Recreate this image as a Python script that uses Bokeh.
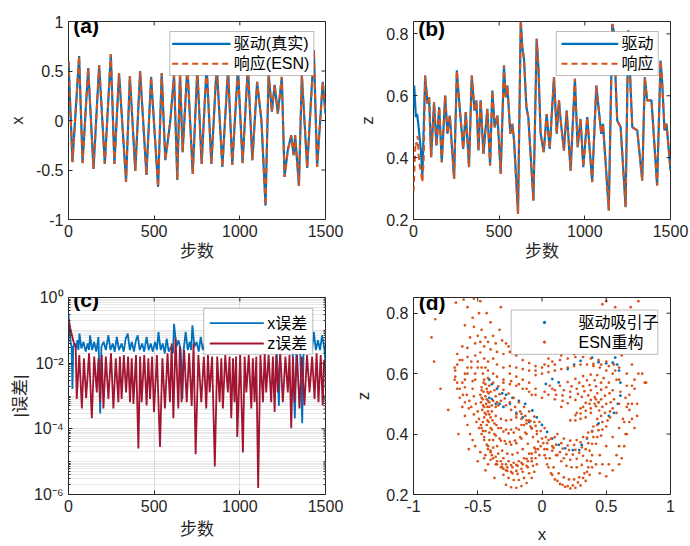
import numpy as np
from bokeh.plotting import figure
from bokeh.layouts import column, row
from bokeh.models import Range1d, FixedTicker, Label, BoxAnnotation
from bokeh.embed import file_html
from bokeh.resources import INLINE

# ---------------- data ----------------
# (a) x : drive vs ESN response (extrema of the trace)
a_steps = [0, 23, 62, 82, 115, 146, 179, 212, 247, 268, 295, 336, 358, 390, 418, 455, 482, 523, 544, 565,
           594, 616, 635, 651, 666, 694, 725, 752, 777, 806, 834, 865, 898, 931, 956, 989, 1016, 1047, 1073,
           1101, 1126, 1150, 1168, 1187, 1203, 1222, 1245, 1261, 1280, 1300, 1314, 1323, 1345, 1362, 1393,
           1432, 1451, 1484, 1500]
a_drive = [0.60, -0.42, 0.65, -0.43, 0.53, -0.49, 0.56, -0.44, 0.67, -0.44, 0.48, -0.62, 0.45, -0.51, 0.50,
           -0.55, 0.44, -0.67, 0.48, -0.40, -0.01, 0.46, -0.60, 0.48, -0.32, 0.55, -0.54, 0.52, -0.44, 0.55,
           -0.44, 0.56, -0.47, 0.52, -0.45, 0.53, -0.43, 0.55, -0.40, 0.39, 0.00, -0.86, 0.48, 0.09, 0.36,
           0.07, 0.44, -0.57, -0.30, -0.15, -0.35, -0.15, -0.66, 0.46, -0.48, 0.71, -0.47, 0.39, 0.07]
a_resp = list(a_drive)

# (b) z : drive
b_steps = [0, 4, 14, 21, 29, 43, 52, 68, 82, 91, 103, 120, 134, 150, 165, 185, 198, 212, 237, 253, 266, 290,
           305, 324, 340, 356, 367, 379, 392, 408, 431, 447, 460, 474, 490, 509, 528, 538, 548, 565, 577, 587,
           610, 626, 635, 645, 659, 670, 700, 719, 729, 742, 760, 777, 795, 820, 836, 849, 859, 878, 894, 917,
           942, 958, 975, 991, 1014, 1043, 1067, 1082, 1096, 1106, 1140, 1160, 1170, 1179, 1189, 1209, 1238,
           1253, 1277, 1306, 1335, 1350, 1364, 1389, 1422, 1442, 1451, 1465, 1477, 1500]
b_drive = [0.56, 0.633, 0.531, 0.541, 0.504, 0.423, 0.342, 0.665, 0.574, 0.595, 0.401, 0.579, 0.439, 0.563,
           0.385, 0.601, 0.477, 0.536, 0.331, 0.682, 0.585, 0.428, 0.547, 0.369, 0.665, 0.552, 0.585, 0.423,
           0.585, 0.412, 0.558, 0.375, 0.617, 0.498, 0.536, 0.348, 0.698, 0.595, 0.633, 0.477, 0.509, 0.455,
           0.218, 0.843, 0.757, 0.719, 0.563, 0.531, 0.261, 0.784, 0.692, 0.477, 0.418, 0.541, 0.428, 0.660,
           0.477, 0.585, 0.520, 0.423, 0.552, 0.358, 0.655, 0.434, 0.525, 0.369, 0.531, 0.321, 0.633, 0.552,
           0.477, 0.509, 0.229, 0.832, 0.805, 0.660, 0.520, 0.498, 0.240, 0.811, 0.498, 0.488, 0.326, 0.660,
           0.585, 0.585, 0.310, 0.714, 0.649, 0.488, 0.509, 0.358]
# (b) z : ESN response, differs only during the first ~60 steps
b_resp_head_steps = [0, 12, 18, 24, 30, 38, 44, 52, 60]
b_resp_head = [0.29, 0.45, 0.44, 0.47, 0.41, 0.37, 0.35, 0.32, 0.40]

# (c) |error| (log10 of the value)
c_x_steps = [0, 6, 12, 18, 23, 28, 36, 44, 52, 58, 64, 75, 88, 100, 112, 120, 126, 138, 150, 162, 175, 185,
             192, 205, 218, 233, 245, 258, 270, 282, 295, 310, 322, 334, 346, 358, 370, 382, 394, 404, 416,
             430, 442, 456, 468, 480, 492, 505, 516, 525, 538, 550, 562, 573, 585, 598, 610, 616, 630, 642,
             655, 665, 672, 684, 696, 708, 716, 723, 735, 748, 760, 772, 784, 796, 808, 820, 832, 844, 856,
             868, 880, 892, 904, 916, 928, 940, 952, 964, 976, 988, 1000, 1012, 1024, 1036, 1048, 1060, 1072,
             1084, 1096, 1108, 1120, 1132, 1144, 1156, 1168, 1180, 1192, 1204, 1215, 1228, 1236, 1248, 1260,
             1272, 1284, 1296, 1308, 1321, 1330, 1342, 1352, 1364, 1372, 1384, 1396, 1408, 1420, 1432, 1444,
             1456, 1468, 1480, 1492, 1500]
c_x_exp = [-0.5, -0.9, -1.35, -1.5, -2.79, -1.5, -1.4, -1.55, -1.3, -1.6, -1.1, -1.55, -1.35, -1.65, -1.4,
           -1.6, -1.15, -1.6, -1.35, -1.65, -1.2, -3.53, -1.5, -1.35, -1.6, -1.15, -1.6, -1.4, -1.65, -1.2,
           -1.6, -1.4, -1.65, -1.25, -1.1, -1.6, -1.35, -1.65, -1.3, -1.15, -1.6, -1.4, -1.65, -1.2, -1.6,
           -1.4, -1.65, -1.35, -1.6, -1.05, -1.6, -1.4, -1.7, -1.25, -1.65, -1.5, -1.7, -0.8, -1.5, -1.3,
           -1.6, -3.08, -1.6, -1.05, -1.6, -1.35, -1.6, -0.85, -1.5, -1.35, -1.65, -1.2, -1.6, -1.4, -1.65,
           -1.15, -1.6, -1.35, -1.65, -1.2, -1.6, -1.4, -1.65, -1.15, -1.6, -1.35, -1.65, -1.2, -1.6, -1.4,
           -1.65, -1.15, -1.6, -1.35, -1.65, -1.2, -1.6, -1.4, -1.65, -1.2, -1.6, -1.35, -1.6, -1.1, -1.6,
           -1.4, -1.65, -1.25, -1.6, -3.3, -1.6, -1.15, -1.6, -1.35, -1.65, -1.2, -1.6, -3.68, -1.6, -1.25,
           -1.6, -3.83, -1.6, -1.2, -1.6, -1.3, -1.65, -1.05, -1.6, -1.3, -1.6, -1.15, -1.5, -2.0]
c_z_steps = [0, 13, 29, 42, 48, 63, 78, 90, 103, 120, 136, 150, 165, 175, 184, 194, 204, 218, 233, 248, 262,
             276, 291, 300, 310, 323, 336, 348, 359, 369, 379, 394, 408, 418, 427, 442, 456, 466, 476, 488,
             499, 516, 534, 548, 563, 578, 592, 602, 612, 625, 641, 650, 660, 675, 690, 704, 719, 730, 742,
             758, 775, 790, 804, 814, 824, 838, 854, 868, 882, 892, 901, 915, 930, 940, 950, 960, 969, 978,
             985, 1002, 1018, 1028, 1038, 1052, 1067, 1076, 1086, 1096, 1107, 1120, 1135, 1145, 1154, 1168,
             1183, 1193, 1203, 1212, 1222, 1236, 1251, 1266, 1280, 1290, 1300, 1310, 1319, 1334, 1348, 1362,
             1377, 1392, 1407, 1422, 1436, 1448, 1459, 1472, 1484, 1492, 1500]
c_z_exp = [-0.65, -1.0, -1.34, -1.5, -3.09, -1.75, -3.38, -1.85, -3.07, -1.7, -3.68, -1.8, -2.89, -1.85,
           -3.19, -1.75, -3.38, -1.8, -3.09, -1.7, -3.38, -1.85, -3.19, -1.8, -3.09, -1.75, -2.89, -1.8,
           -3.19, -1.85, -3.24, -1.75, -4.6, -1.8, -3.19, -1.75, -3.29, -1.85, -3.09, -1.8, -3.49, -1.75,
           -4.55, -1.85, -3.38, -1.7, -3.19, -1.4, -3.68, -1.25, -3.38, -1.5, -3.19, -1.6, -3.19, -1.7,
           -3.3, -1.4, -4.77, -1.75, -3.19, -1.8, -3.38, -1.75, -2.89, -1.8, -5.15, -1.8, -3.19, -1.85,
           -3.38, -1.75, -2.89, -1.8, -3.68, -1.85, -3.19, -1.8, -4.25, -1.75, -4.72, -1.8, -2.89, -1.75,
           -3.38, -1.85, -3.19, -1.8, -5.8, -1.75, -3.19, -1.7, -2.89, -1.75, -3.19, -1.8, -3.49, -1.75,
           -2.89, -1.7, -3.19, -1.8, -2.89, -1.75, -3.98, -1.8, -3.19, -1.75, -3.38, -1.8, -3.29, -1.75,
           -2.89, -1.8, -3.09, -1.7, -3.19, -1.75, -3.29, -1.9, -2.0]

# (d) attractor points (x, z)
d_drive = [(-0.41, 0.58), (-0.39, 0.565), (-0.35, 0.55), (-0.31, 0.535), (-0.28, 0.53), (-0.23, 0.52),
           (-0.18, 0.51), (-0.13, 0.50), (-0.075, 0.478), (-0.04, 0.455), (0.0, 0.43), (0.04, 0.407),
           (0.08, 0.385), (0.13, 0.364), (0.18, 0.353), (0.24, 0.347), (0.29, 0.347), (0.31, 0.364),
           (0.35, 0.385), (0.39, 0.41), (0.44, 0.435), (0.52, 0.46), (0.56, 0.47), (0.59, 0.50),
           (0.61, 0.527), (0.61, 0.57), (0.60, 0.61), (0.585, 0.63), (0.57, 0.653), (0.55, 0.636),
           (0.50, 0.634), (0.44, 0.638), (0.39, 0.653), (0.30, 0.642), (0.25, 0.63), (0.20, 0.615),
           (0.13, 0.571), (0.08, 0.582), (0.03, 0.566), (-0.39, 0.516), (-0.36, 0.50), (-0.33, 0.50),
           (-0.41, 0.52), (-0.30, 0.49), (-0.25, 0.50), (-0.20, 0.47), (-0.15, 0.455), (-0.10, 0.44)]
d_esn = [
    # sparse outer points
    (-0.86, 0.72), (-0.84, 0.64), (-0.83, 0.78), (-0.79, 0.55), (-0.73, 0.48), (-0.65, 0.40), (-0.57, 0.35),
    (-0.50, 0.31), (-0.44, 0.28), (-0.37, 0.255), (-0.67, 0.835), (-0.61, 0.845), (-0.53, 0.848),
    (-0.48, 0.84), (-0.58, 0.82), (-0.49, 0.80), (-0.54, 0.785), (-0.43, 0.80), (-0.32, 0.82), (-0.40, 0.77),
    (-0.47, 0.745), (-0.53, 0.755), (-0.60, 0.76), (-0.56, 0.72), (-0.50, 0.725), (-0.42, 0.705),
    (-0.38, 0.725), (-0.33, 0.745), (-0.28, 0.70), (-0.62, 0.69), (-0.66, 0.665), (-0.68, 0.62),
    (-0.64, 0.645), (-0.58, 0.685), (-0.52, 0.70), (-0.45, 0.69), (-0.40, 0.68), (-0.35, 0.672),
    (-0.30, 0.665), (-0.25, 0.672), (-0.20, 0.66), (-0.15, 0.645), (-0.10, 0.635), (-0.05, 0.625),
    (0.47, 0.83), (0.50, 0.84), (0.57, 0.82), (0.69, 0.82), (0.75, 0.84), (0.78, 0.60), (0.80, 0.57),
    (0.72, 0.55), (0.74, 0.50), (0.70, 0.45), (0.72, 0.42), (0.66, 0.40), (0.64, 0.36), (0.62, 0.32),
    (0.55, 0.28), (0.68, 0.48), (0.65, 0.52), (0.66, 0.56), (0.62, 0.66), (0.55, 0.68), (0.45, 0.68),
    (0.35, 0.67), (0.25, 0.665), (0.15, 0.66), (0.05, 0.65), (0.0, 0.67),
    (-0.68, 0.58), (-0.66, 0.55), (-0.64, 0.52), (-0.62, 0.49), (-0.60, 0.46), (-0.58, 0.43), (-0.56, 0.40),
    (-0.54, 0.38), (-0.52, 0.36), (-0.48, 0.34), (-0.60, 0.60), (-0.62, 0.57), (-0.58, 0.62), (-0.55, 0.64),
    (-0.52, 0.66), (-0.48, 0.67),
    (-0.58, 0.655), (-0.62, 0.645), (-0.66, 0.63), (-0.675, 0.61), (-0.675, 0.59), (-0.66, 0.57),
    (-0.64, 0.55), (-0.615, 0.53), (-0.60, 0.505), (-0.57, 0.485),
    (-0.55, 0.62), (-0.58, 0.60), (-0.60, 0.58), (-0.60, 0.555), (-0.585, 0.53), (-0.565, 0.51),
    (-0.55, 0.49), (-0.53, 0.465), (-0.51, 0.44), (-0.49, 0.42), (-0.47, 0.40), (-0.45, 0.38),
    (-0.52, 0.60), (-0.54, 0.575), (-0.54, 0.55), (-0.53, 0.525), (-0.515, 0.50), (-0.50, 0.475),
    (-0.49, 0.45), (-0.475, 0.43), (-0.46, 0.41),
    (-0.42, 0.36), (-0.40, 0.34), (-0.38, 0.32), (-0.35, 0.30), (-0.30, 0.285), (-0.45, 0.32), (-0.42, 0.30),
    (-0.45, 0.65), (-0.50, 0.64), (-0.42, 0.64), (-0.38, 0.65), (-0.47, 0.62), (-0.44, 0.62), (-0.35, 0.63),
    (-0.50, 0.62), (-0.52, 0.58), (-0.36, 0.70), (-0.31, 0.71), (-0.26, 0.69), (-0.44, 0.72), (-0.48, 0.705),
    # left loops
    (-0.45, 0.58), (-0.47, 0.555), (-0.48, 0.53), (-0.475, 0.505), (-0.465, 0.48), (-0.45, 0.455),
    (-0.43, 0.43), (-0.41, 0.405), (-0.38, 0.38), (-0.35, 0.36), (-0.31, 0.345), (-0.27, 0.335),
    (-0.23, 0.332), (-0.19, 0.338), (-0.15, 0.35), (-0.11, 0.368), (-0.07, 0.39), (-0.04, 0.41),
    (-0.455, 0.57), (-0.47, 0.545), (-0.47, 0.52), (-0.46, 0.495), (-0.445, 0.47), (-0.425, 0.445),
    (-0.40, 0.42), (-0.37, 0.40), (-0.33, 0.385), (-0.29, 0.377), (-0.25, 0.374), (-0.21, 0.378),
    (-0.17, 0.39), (-0.13, 0.405), (-0.09, 0.425), (-0.06, 0.44),
    (-0.44, 0.565), (-0.455, 0.54), (-0.46, 0.515), (-0.45, 0.49), (-0.435, 0.465), (-0.415, 0.44),
    (-0.39, 0.415), (-0.36, 0.395), (-0.32, 0.378), (-0.28, 0.368), (-0.24, 0.365), (-0.20, 0.37),
    (-0.16, 0.385), (-0.12, 0.40), (-0.08, 0.418),
    (-0.43, 0.55), (-0.44, 0.525), (-0.435, 0.50), (-0.42, 0.475), (-0.40, 0.455), (-0.37, 0.435),
    (-0.34, 0.42), (-0.30, 0.408), (-0.26, 0.402), (-0.22, 0.405), (-0.18, 0.415), (-0.14, 0.43),
    (-0.10, 0.445),
    (-0.425, 0.54), (-0.43, 0.515), (-0.425, 0.49), (-0.41, 0.465), (-0.385, 0.445), (-0.355, 0.43),
    (-0.32, 0.42), (-0.28, 0.415), (-0.24, 0.415), (-0.20, 0.42), (-0.16, 0.43), (-0.12, 0.445),
    (-0.415, 0.535), (-0.42, 0.51), (-0.41, 0.49), (-0.39, 0.475), (-0.36, 0.46), (-0.32, 0.45),
    (-0.28, 0.445), (-0.24, 0.447), (-0.20, 0.455), (-0.16, 0.467),
    (-0.46, 0.44), (-0.44, 0.41), (-0.41, 0.38), (-0.38, 0.355), (-0.34, 0.335), (-0.30, 0.32),
    (-0.26, 0.31), (-0.22, 0.305), (-0.18, 0.31), (-0.14, 0.32), (-0.10, 0.335), (-0.06, 0.355),
    (-0.03, 0.375),
    (-0.47, 0.42), (-0.45, 0.39), (-0.43, 0.365), (-0.40, 0.345), (-0.36, 0.325), (-0.32, 0.31),
    (-0.28, 0.30), (-0.24, 0.297), (-0.20, 0.298), (-0.16, 0.305), (-0.12, 0.318), (-0.08, 0.335),
    (-0.05, 0.35),
    (-0.42, 0.35), (-0.39, 0.33), (-0.35, 0.31), (-0.31, 0.30), (-0.27, 0.29), (-0.23, 0.29),
    (-0.19, 0.295), (-0.15, 0.30), (-0.11, 0.31),
    (-0.44, 0.33), (-0.40, 0.315), (-0.36, 0.30), (-0.32, 0.29), (-0.28, 0.28), (-0.24, 0.275),
    (-0.20, 0.278), (-0.16, 0.285), (-0.12, 0.295), (-0.08, 0.32),
    (-0.42, 0.585), (-0.38, 0.57), (-0.34, 0.558), (-0.30, 0.546), (-0.26, 0.534), (-0.22, 0.52),
    (-0.18, 0.505), (-0.14, 0.49), (-0.10, 0.475), (-0.06, 0.458), (-0.02, 0.44), (0.02, 0.42),
    (-0.41, 0.56), (-0.37, 0.545), (-0.33, 0.532), (-0.29, 0.518), (-0.25, 0.505), (-0.21, 0.49),
    (-0.17, 0.475), (-0.13, 0.46), (-0.09, 0.443), (-0.05, 0.427), (-0.01, 0.41), (0.03, 0.39),
    (-0.40, 0.54), (-0.36, 0.525), (-0.32, 0.51), (-0.28, 0.495), (-0.24, 0.48), (-0.20, 0.465),
    (-0.16, 0.45), (-0.12, 0.435), (-0.08, 0.42), (-0.04, 0.40), (0.0, 0.385),
    (-0.41, 0.505), (-0.39, 0.495), (-0.36, 0.49), (-0.34, 0.495), (-0.35, 0.505), (-0.38, 0.51),
    # right loops
    (0.04, 0.37), (0.08, 0.345), (0.12, 0.33), (0.17, 0.32), (0.22, 0.315), (0.27, 0.318), (0.32, 0.328),
    (0.37, 0.345), (0.42, 0.368), (0.46, 0.395), (0.50, 0.425), (0.53, 0.455), (0.55, 0.485), (0.56, 0.515),
    (0.55, 0.545), (0.52, 0.57), (0.48, 0.585), (0.43, 0.595), (0.38, 0.597), (0.32, 0.592), (0.26, 0.583),
    (0.20, 0.572), (0.14, 0.56), (0.08, 0.55),
    (0.05, 0.38), (0.09, 0.355), (0.14, 0.34), (0.19, 0.333), (0.24, 0.332), (0.29, 0.338), (0.34, 0.35),
    (0.39, 0.368), (0.43, 0.39), (0.47, 0.415), (0.51, 0.445), (0.53, 0.475), (0.535, 0.505), (0.525, 0.535),
    (0.50, 0.555), (0.46, 0.57), (0.41, 0.578), (0.35, 0.578), (0.29, 0.57), (0.23, 0.558), (0.17, 0.545),
    (0.11, 0.53),
    (0.07, 0.385), (0.11, 0.365), (0.16, 0.352), (0.21, 0.347), (0.26, 0.348), (0.31, 0.356), (0.36, 0.37),
    (0.40, 0.39), (0.44, 0.413), (0.47, 0.44), (0.49, 0.47), (0.50, 0.50), (0.49, 0.527), (0.46, 0.547),
    (0.42, 0.558), (0.37, 0.562), (0.32, 0.558), (0.27, 0.55), (0.22, 0.54), (0.16, 0.528), (0.10, 0.515),
    (0.10, 0.39), (0.15, 0.37), (0.20, 0.362), (0.25, 0.364), (0.30, 0.373), (0.35, 0.388), (0.39, 0.408),
    (0.43, 0.43), (0.46, 0.46), (0.47, 0.49), (0.46, 0.515), (0.43, 0.535), (0.38, 0.545), (0.33, 0.542),
    (0.28, 0.533), (0.22, 0.522), (0.16, 0.51),
    (0.12, 0.40), (0.17, 0.385), (0.22, 0.378), (0.27, 0.38), (0.32, 0.39), (0.36, 0.405), (0.40, 0.425),
    (0.43, 0.45), (0.445, 0.478), (0.44, 0.505), (0.41, 0.522), (0.36, 0.528), (0.31, 0.523), (0.26, 0.513),
    (0.20, 0.502), (0.15, 0.49),
    (0.26, 0.462), (0.30, 0.485), (0.34, 0.503), (0.38, 0.513), (0.42, 0.515), (0.44, 0.505), (0.42, 0.492),
    (0.38, 0.485), (0.34, 0.477), (0.30, 0.468),
    (0.22, 0.445), (0.27, 0.47), (0.32, 0.49), (0.37, 0.50), (0.41, 0.50), (0.38, 0.47), (0.34, 0.455),
    (0.30, 0.45), (0.26, 0.445),
    (0.58, 0.47), (0.60, 0.50), (0.61, 0.54), (0.60, 0.58), (0.57, 0.61), (0.52, 0.625), (0.46, 0.63),
    (0.40, 0.632),
    (0.65, 0.40), (0.68, 0.44), (0.70, 0.50), (0.72, 0.58), (0.75, 0.60), (0.81, 0.57), (0.74, 0.46),
    (0.60, 0.30), (0.50, 0.26), (0.45, 0.27), (0.42, 0.30), (0.45, 0.33), (0.50, 0.36), (0.55, 0.39),
    (0.60, 0.42), (0.63, 0.45), (0.66, 0.49),
    (0.60, 0.36), (0.58, 0.33), (0.52, 0.30), (0.47, 0.30), (0.64, 0.44), (0.67, 0.50), (0.68, 0.53),
    (0.70, 0.56), (0.66, 0.60), (0.70, 0.63), (0.64, 0.68), (0.58, 0.70), (0.70, 0.70), (0.62, 0.72),
    # bottom wings
    (0.01, 0.37), (0.02, 0.33), (0.04, 0.30), (0.07, 0.27), (0.10, 0.25), (0.14, 0.235), (0.18, 0.225),
    (0.22, 0.22), (0.26, 0.222), (0.30, 0.23), (0.34, 0.245), (0.37, 0.265), (0.39, 0.29),
    (0.02, 0.35), (0.03, 0.32), (0.05, 0.29), (0.08, 0.265), (0.12, 0.245), (0.16, 0.232), (0.20, 0.228),
    (0.24, 0.23), (0.28, 0.24), (0.32, 0.255), (0.35, 0.275),
    (0.04, 0.35), (0.06, 0.32), (0.09, 0.29), (0.13, 0.27), (0.17, 0.257), (0.21, 0.25), (0.25, 0.25),
    (0.29, 0.257), (0.33, 0.27), (0.36, 0.29), (0.38, 0.31),
    (0.08, 0.36), (0.11, 0.33), (0.15, 0.31), (0.19, 0.295), (0.23, 0.29), (0.27, 0.29), (0.31, 0.298),
    (0.35, 0.312), (0.39, 0.33),
    (-0.01, 0.36), (-0.02, 0.33), (-0.04, 0.30), (-0.06, 0.275), (-0.08, 0.255), (-0.12, 0.238),
    (-0.16, 0.228), (-0.20, 0.222), (-0.24, 0.224), (-0.28, 0.232),
    (-0.03, 0.35), (-0.05, 0.32), (-0.07, 0.295), (-0.10, 0.27), (-0.14, 0.255), (-0.18, 0.248),
    (-0.22, 0.248), (-0.26, 0.255), (-0.30, 0.265),
    (-0.05, 0.34), (-0.08, 0.31), (-0.11, 0.29), (-0.15, 0.275), (-0.19, 0.268), (-0.23, 0.27),
    (-0.27, 0.278), (-0.31, 0.29),
    # upper bands
    (0.0, 0.60), (0.05, 0.605), (0.10, 0.61), (0.15, 0.615), (0.20, 0.62), (0.25, 0.625), (0.30, 0.63),
    (0.35, 0.63), (0.40, 0.625), (0.45, 0.62), (0.50, 0.61), (0.55, 0.60), (0.58, 0.58),
    (-0.05, 0.595), (0.02, 0.63), (0.08, 0.64), (0.14, 0.645), (0.20, 0.65), (0.26, 0.655), (0.32, 0.655),
    (0.38, 0.65), (0.44, 0.645), (0.50, 0.64), (0.56, 0.63), (0.60, 0.62),
    (-0.05, 0.55), (-0.10, 0.57), (-0.15, 0.58), (-0.20, 0.59), (-0.25, 0.60), (0.02, 0.54), (0.06, 0.56),
    (-0.08, 0.53), (-0.12, 0.55), (-0.18, 0.565), (-0.24, 0.575), (-0.30, 0.58), (-0.35, 0.59),
    (-0.38, 0.60), (-0.42, 0.61), (-0.46, 0.60),
    (-0.30, 0.57), (-0.25, 0.565), (-0.20, 0.56), (-0.15, 0.55), (-0.10, 0.54), (-0.05, 0.53), (0.0, 0.52),
    (0.05, 0.53), (0.10, 0.545),
    (-0.30, 0.62), (-0.25, 0.625), (-0.20, 0.62), (-0.15, 0.615), (-0.10, 0.61), (-0.05, 0.61), (0.0, 0.62),
    (0.05, 0.625), (0.10, 0.63),
]
d_drive_x = [p[0] for p in d_drive]
d_drive_z = [p[1] for p in d_drive]
d_esn_x = [p[0] for p in d_esn]
d_esn_z = [p[1] for p in d_esn]

# tick labels
x_steps_ticks = [0, 500, 1000, 1500]
a_y_ticks = [-1, -0.5, 0, 0.5, 1]
a_y_labels = ["-1", "-0.5", "0", "0.5", "1"]
z_ticks = [0.2, 0.4, 0.6, 0.8]
z_labels = ["0.2", "0.4", "0.6", "0.8"]
c_y_ticks = [1e-6, 1e-4, 1e-2, 1.0]
c_y_labels = ["10\u207b\u2076", "10\u207b\u2074", "10\u207b\u00b2", "10\u2070"]
d_x_ticks = [-1, -0.5, 0, 0.5, 1]
d_x_labels = ["-1", "-0.5", "0", "0.5", "1"]

# legend texts
a_legend = ["驱动(真实)", "响应(ESN)"]
b_legend = ["驱动", "响应"]
c_legend = ["x误差", "z误差"]
d_legend = ["驱动吸引子", "ESN重构"]

# ---------------- styling ----------------
BLUE = "#0072BD"
ORANGE = "#D95319"
RED = "#A2142F"
INK = "#262626"
FONT = "Liberation Sans, Noto Sans CJK SC"
FIG_W, FIG_H = 345, 273
BORDER_L, BORDER_R = 68, 20


class Frame:
    """Maps a pixel offset inside a figure to data units (for legend placement)."""

    def __init__(self, top, bottom, xr, yr, ylog=False):
        self.top, self.h = top, FIG_H - top - bottom
        self.w = FIG_W - BORDER_L - BORDER_R
        self.xr, self.yr, self.ylog = xr, yr, ylog

    def x(self, px):
        return self.xr[0] + (px - BORDER_L) / self.w * (self.xr[1] - self.xr[0])

    def y(self, py):
        f = (self.top + self.h - py) / self.h
        if self.ylog:
            lo, hi = np.log10(self.yr[0]), np.log10(self.yr[1])
            return 10 ** (lo + f * (hi - lo))
        return self.yr[0] + f * (self.yr[1] - self.yr[0])


def make_fig(fr):
    p = figure(width=FIG_W, height=FIG_H, x_range=Range1d(*fr.xr), y_range=Range1d(*fr.yr),
               y_axis_type="log" if fr.ylog else "linear",
               output_backend="svg", toolbar_location=None,
               min_border_left=BORDER_L, min_border_right=BORDER_R,
               min_border_top=fr.top, min_border_bottom=FIG_H - fr.top - fr.h)
    p.outline_line_color = INK
    p.outline_line_width = 1
    p.background_fill_color = "white"
    p.border_fill_color = "white"
    p.grid.visible = False
    return p


def style_axis(ax, ticks, labels=None, minor=None):
    ax.ticker = FixedTicker(ticks=ticks, minor_ticks=minor or [])
    if labels is not None:
        ax.major_label_overrides = {t: l for t, l in zip(ticks, labels)}
    ax.axis_line_color = None
    ax.major_tick_in = 4
    ax.major_tick_out = 0
    ax.major_tick_line_color = INK
    if minor:
        ax.minor_tick_in = 2
        ax.minor_tick_out = 0
        ax.minor_tick_line_color = INK
    else:
        ax.minor_tick_line_color = None
    ax.major_label_text_font = FONT
    ax.major_label_text_font_size = "16px"
    ax.major_label_text_color = INK
    ax.axis_label_text_font = FONT
    ax.axis_label_text_font_size = "17px"
    ax.axis_label_text_font_style = "normal"
    ax.axis_label_text_color = INK


def box_ticks(p, fr, xticks, yticks, yminor=None):
    # tick marks on the top and right edges of the box (pointing inward)
    p.ray(x=xticks, y=[fr.yr[1]] * len(xticks), length=4, length_units="screen",
          angle=-np.pi / 2, line_color=INK, line_width=1)
    p.ray(x=[fr.xr[1]] * len(yticks), y=yticks, length=4, length_units="screen",
          angle=np.pi, line_color=INK, line_width=1)
    if yminor:
        p.ray(x=[fr.xr[1]] * len(yminor), y=yminor, length=2, length_units="screen",
              angle=np.pi, line_color=INK, line_width=1)


def legend_box(p, fr, box, rows, labels, text_x):
    """box=(left, right, top, bottom) px; rows = list of (row_y_px, sample_spec)."""
    l, r, t, b = box
    p.add_layout(BoxAnnotation(left=fr.x(l), right=fr.x(r), top=fr.y(t), bottom=fr.y(b),
                               fill_color="white", fill_alpha=1.0, line_color=INK, line_width=1,
                               level="annotation"))
    for (ry, spec), lab in zip(rows, labels):
        if spec["kind"] == "line":
            p.segment(x0=[fr.x(spec["x0"])], y0=[fr.y(ry)], x1=[fr.x(spec["x1"])], y1=[fr.y(ry)],
                      line_color=spec["color"], line_width=spec["width"],
                      line_dash=spec.get("dash", "solid"), level="overlay")
        else:
            p.scatter(x=[fr.x(spec["x0"])], y=[fr.y(ry)], size=3.2, color=spec["color"],
                      line_color=None, level="overlay")
        p.add_layout(Label(x=fr.x(text_x), y=fr.y(ry), text=lab, text_font=FONT,
                           text_font_size="16px", text_baseline="middle", text_align="left",
                           text_color="black", level="overlay"))


def panel_label(p, x, y, text):
    p.add_layout(Label(x=x, y=y, text=text, text_font=FONT, text_font_style="bold",
                       text_font_size="21px", text_baseline="middle", text_color="black"))


# frames: (top border, bottom border, x range, y range)
fa = Frame(21, 54, (0, 1500), (-1, 1))
fb = Frame(21, 54, (0, 1500), (0.2, 0.84))
fc = Frame(24, 49, (0, 1500), (1e-6, 1.0), ylog=True)
fd = Frame(24, 49, (-1, 1), (0.2, 0.852))

# ---------------- (a) ----------------
pa = make_fig(fa)
pa.line(a_steps, a_drive, color=BLUE, line_width=2.2)
pa.line(a_steps, a_resp, color=ORANGE, line_width=2, line_dash="6 4")
style_axis(pa.xaxis[0], x_steps_ticks)
style_axis(pa.yaxis[0], a_y_ticks, a_y_labels)
pa.xaxis.axis_label = "步数"
pa.yaxis.axis_label = "x"
pa.xaxis.axis_label_standoff = 2
pa.yaxis.axis_label_standoff = 6
box_ticks(pa, fa, x_steps_ticks, a_y_ticks)
legend_box(pa, fa, (169.3, 313.3, 31, 75),
           [(43.3, dict(kind="line", x0=171.7, x1=230, color=BLUE, width=2.2)),
            (63.3, dict(kind="line", x0=171.7, x1=230, color=ORANGE, width=2, dash="6 4"))],
           a_legend, 233.3)
panel_label(pa, 28, 0.955, "(a)")

# ---------------- (b) ----------------
pb = make_fig(fb)
pb.line(b_steps, b_drive, color=BLUE, line_width=2.2)
b_resp_steps = b_resp_head_steps + [s for s in b_steps if s >= 68]
b_resp = b_resp_head + [v for s, v in zip(b_steps, b_drive) if s >= 68]
pb.line(b_resp_steps, b_resp, color=ORANGE, line_width=2, line_dash="6 4")
style_axis(pb.xaxis[0], x_steps_ticks)
style_axis(pb.yaxis[0], z_ticks, z_labels)
pb.xaxis.axis_label = "步数"
pb.yaxis.axis_label = "z"
pb.xaxis.axis_label_standoff = 2
pb.yaxis.axis_label_standoff = 6
box_ticks(pb, fb, x_steps_ticks, z_ticks)
legend_box(pb, fb, (210.7, 312.7, 31, 75),
           [(43.3, dict(kind="line", x0=216, x1=272.7, color=BLUE, width=2.2)),
            (63.3, dict(kind="line", x0=216, x1=272.7, color=ORANGE, width=2, dash="6 4"))],
           b_legend, 276)
panel_label(pb, 28, 0.818, "(b)")

# ---------------- (c) ----------------
c_minor = [k * 10.0 ** d for d in range(-6, 0) for k in range(1, 10) if not (k == 1 and d % 2 == 0)]
pc = make_fig(fc)
pc.xgrid.visible = True
pc.ygrid.visible = True
pc.xgrid.grid_line_color = "#dcdcdc"
pc.ygrid.grid_line_color = "#dcdcdc"
pc.ygrid.minor_grid_line_color = "#d2d2d2"
pc.ygrid.minor_grid_line_dash = "1 1"
pc.line(c_x_steps, (10.0 ** np.array(c_x_exp)).tolist(), color=BLUE, line_width=1.8)
pc.line(c_z_steps, (10.0 ** np.array(c_z_exp)).tolist(), color=RED, line_width=1.8)
style_axis(pc.xaxis[0], x_steps_ticks)
style_axis(pc.yaxis[0], c_y_ticks, c_y_labels, minor=c_minor)
pc.xaxis.axis_label = "步数"
pc.yaxis.axis_label = "|误差|"
pc.xaxis.axis_label_standoff = 5
pc.yaxis.axis_label_standoff = 1
box_ticks(pc, fc, x_steps_ticks, c_y_ticks, yminor=c_minor)
legend_box(pc, fc, (203.3, 312.3, 35, 81.7),
           [(50, dict(kind="line", x0=209.3, x1=263.3, color=BLUE, width=1.8)),
            (70.7, dict(kind="line", x0=209.3, x1=263.3, color=RED, width=1.8))],
           c_legend, 266.7)
panel_label(pc, 28, 0.88, "(c)")

# ---------------- (d) ----------------
pd_ = make_fig(fd)
pd_.scatter(d_drive_x, d_drive_z, size=2.8, color=BLUE, line_color=None)
pd_.scatter(d_esn_x, d_esn_z, size=2.7, color=ORANGE, line_color=None)
style_axis(pd_.xaxis[0], d_x_ticks, d_x_labels)
style_axis(pd_.yaxis[0], z_ticks, z_labels)
pd_.xaxis.axis_label = "x"
pd_.yaxis.axis_label = "z"
pd_.xaxis.axis_label_standoff = 10
pd_.yaxis.axis_label_standoff = 10
box_ticks(pd_, fd, d_x_ticks, z_ticks)
legend_box(pd_, fd, (165.7, 312.3, 36.7, 81.7),
           [(49.3, dict(kind="dot", x0=199, color=BLUE)),
            (69.3, dict(kind="dot", x0=199, color=ORANGE))],
           d_legend, 233)
panel_label(pd_, -0.96, 0.835, "(d)")

layout = column(row(pa, pb), row(pc, pd_))
open("out.html", "w").write(file_html(layout, INLINE))
